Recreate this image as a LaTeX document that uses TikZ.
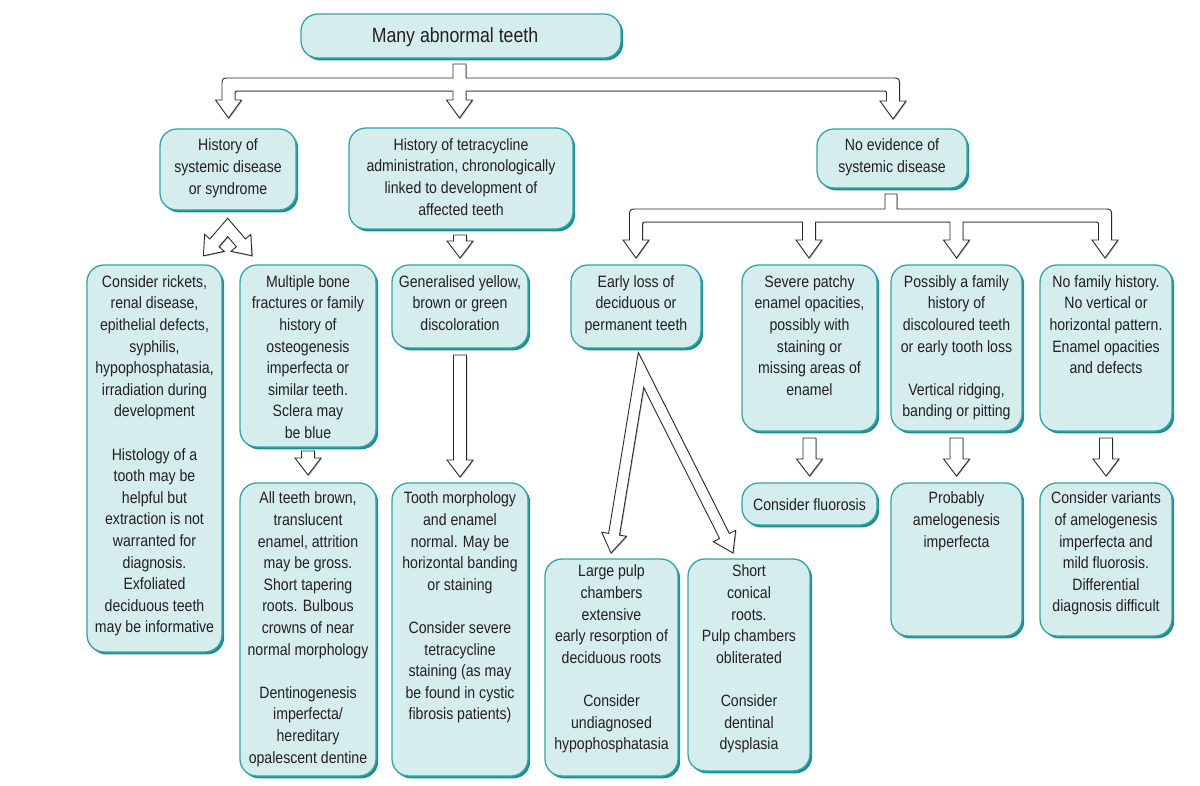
\documentclass[tikz,border=0pt]{standalone}
\usepackage{fontspec}
\setmainfont{Liberation Sans}[FakeStretch=0.86]
\usetikzlibrary{calc,shadows}
\definecolor{boxfill}{HTML}{D6EDEE}
\definecolor{boxline}{HTML}{2EA7A9}
\definecolor{boxshadow}{HTML}{1A8E91}
\definecolor{txtcol}{HTML}{231F20}
\definecolor{arrline}{HTML}{2B2B2B}
\tikzset{
 box/.style={rectangle, rounded corners=17pt, draw=boxline, line width=1.3pt, fill=boxfill,
   inner sep=0pt, outer sep=0pt,
   drop shadow={shadow xshift=2.2pt, shadow yshift=-2.4pt, fill=boxshadow, opacity=1}},
 txt/.style={align=center, inner sep=0pt, outer sep=0pt, text=txtcol,
   font=\fontsize{16.4}{21.6}\selectfont, execute at begin node={\rule{0pt}{15pt}}, anchor=north},
 barrow/.style={draw=arrline, line width=0.9pt, fill=white, line join=miter,
   drop shadow={shadow xshift=0.9pt, shadow yshift=-0.9pt, fill=black!30, opacity=1}},
}
\newcommand\bx[7]{%
 \node[box, anchor=north west, minimum width={(#4-#2)*1pt}, minimum height={(#5-#3)*1pt}] (#1) at (#2,#3) {};
 \node[txt] (#1t) at ({(#2+#4)/2}, {#6-15}) {#7};
}
\newcommand\vblk[4]{%
 \draw[barrow] let \p1=(#1.south), \p2=(#2.north) in
 (\x2-6.5pt,\y1-#3pt) -- (\x2+6.5pt,\y1-#3pt) -- (\x2+6.5pt,\y2+#4pt+17pt) -- (\x2+13pt,\y2+#4pt+17pt)
 -- (\x2,\y2+#4pt) -- (\x2-13pt,\y2+#4pt+17pt) -- (\x2-6.5pt,\y2+#4pt+17pt) -- cycle;}
\begin{document}
\begin{tikzpicture}[x=1pt,y=-1pt]
\useasboundingbox (0,0) rectangle (1200,786);
\fill[white] (0,0) rectangle (1200,786);

% top box
\node[box, anchor=north west, minimum width=320pt, minimum height=44pt] (top) at (301,14) {};
\node[txt, anchor=base, execute at begin node={}, font=\fontsize{20.6}{24}\selectfont] (topt) at (455,43) {Many abnormal teeth};

\bx{h1}{160}{129}{296}{210}{154}{History of\\ systemic disease\\ or syndrome}
\bx{h2}{349}{128}{573}{229}{153.5}{History of tetracycline\\ administration, chronologically\\ linked to development of\\ affected teeth}
\bx{h3}{817}{129}{967}{188}{154}{No evidence of\\ systemic disease}

\bx{b1}{87}{265}{222}{652}{290.5}{Consider rickets,\\ renal disease,\\ epithelial defects,\\ syphilis,\\ hypophosphatasia,\\ irradiation during\\ development\\[21.6pt] Histology of a\\ tooth may be\\ helpful but\\ extraction is not\\ warranted for\\ diagnosis.\\ Exfoliated\\ deciduous teeth\\ may be informative}
\bx{b2}{240}{265}{376}{447}{290.5}{Multiple bone\\ fractures or family\\ history of\\ osteogenesis\\ imperfecta or\\ similar teeth.\\ Sclera may\\ be blue}
\bx{b3}{392}{265}{528}{348}{290.5}{Generalised yellow,\\ brown or green\\ discoloration}
\bx{b4}{571}{265}{701}{348}{290.5}{Early loss of\\ deciduous or\\ permanent teeth}
\bx{b5}{742}{265}{877}{431}{290.5}{Severe patchy\\ enamel opacities,\\ possibly with\\ staining or\\ missing areas of\\ enamel}
\bx{b6}{891}{265}{1022}{431}{290.5}{Possibly a family\\ history of\\ discoloured teeth\\ or early tooth loss\\[21.6pt] Vertical ridging,\\ banding or pitting}
\bx{b7}{1040}{265}{1172}{431}{290.5}{No family history.\\ No vertical or\\ horizontal pattern.\\ Enamel opacities\\ and defects}

\bx{c1}{240}{483}{376}{776}{507}{All teeth brown,\\ translucent\\ enamel, attrition\\ may be gross.\\ Short tapering\\ roots. Bulbous\\ crowns of near\\ normal morphology\\[21.6pt] Dentinogenesis\\ imperfecta/\\ hereditary\\ opalescent dentine}
\bx{c2}{392}{483}{528}{776}{507}{Tooth morphology\\ and enamel\\ normal. May be\\ horizontal banding\\ or staining\\[21.6pt] Consider severe\\ tetracycline\\ staining (as may\\ be found in cystic\\ fibrosis patients)}
\bx{c3}{545}{559}{678}{776}{580}{Large pulp\\ chambers\\ extensive\\ early resorption of\\ deciduous roots\\[21.6pt] Consider\\ undiagnosed\\ hypophosphatasia}
\bx{c4}{688}{559}{810}{771}{580}{Short\\ conical\\ roots.\\ Pulp chambers\\ obliterated\\[21.6pt] Consider\\ dentinal\\ dysplasia}
\bx{d1}{742}{483}{877}{525}{510}{Consider fluorosis}
\bx{d2}{891}{483}{1022}{636}{507}{Probably\\ amelogenesis\\ imperfecta}
\bx{d3}{1040}{483}{1172}{636}{507}{Consider variants\\ of amelogenesis\\ imperfecta and\\ mild fluorosis.\\ Differential\\ diagnosis difficult}

% top tree: top -> h1, h2, h3
\draw[barrow] (453,64) -- (466,64) -- (466,78) -- (891.5,78) .. controls (899.5,78) .. (899.5,86)
 -- (899.5,101) -- (906,101) -- (893,119) -- (880,101) -- (886.5,101) -- (886.5,95)
 .. controls (886.5,91) .. (882.5,91) -- (466,91) -- (466,100) -- (472.5,100) -- (459.5,118)
 -- (446.5,100) -- (453,100) -- (453,91) -- (239,91) .. controls (235,91) .. (235,95)
 -- (235,100) -- (241.5,100) -- (228.5,118) -- (215.5,100) -- (222,100) -- (222,86)
 .. controls (222,78) .. (230,78) -- (453,78) -- cycle;

% second tree: h3 -> b4, b5, b6, b7
\draw[barrow] (885,194) -- (897,194) -- (897,209) -- (1103.5,209) .. controls (1111.5,209) .. (1111.5,217)
 -- (1111.5,240) -- (1118,240) -- (1105,258) -- (1092,240) -- (1098.5,240) -- (1098.5,226)
 .. controls (1098.5,222) .. (1094.5,222) -- (963,222) -- (963,240) -- (969.5,240) -- (956.5,258)
 -- (943.5,240) -- (950,240) -- (950,222) -- (815.5,222) -- (815.5,240) -- (822,240) -- (809,258)
 -- (796,240) -- (802.5,240) -- (802.5,222) -- (646.5,222) .. controls (642.5,222) .. (642.5,226)
 -- (642.5,240) -- (649,240) -- (636,258) -- (623,240) -- (629.5,240) -- (629.5,217)
 .. controls (629.5,209) .. (637.5,209) -- (885,209) -- cycle;

% chevron: h1 -> b1, b2
\draw[barrow] (227.7,218.3) -- (245.47,238.95) -- (250.77,234.38) -- (252,255.75) -- (231.07,251.34)
 -- (236.37,246.77) -- (227.7,236.7) -- (219.03,246.77) -- (224.33,251.34) -- (203.4,255.75)
 -- (204.63,234.38) -- (209.93,238.95) -- cycle;

% Lambda: b4 -> c3, c4
\draw[barrow] (638.31,352.41) -- (608.64,533.36) -- (601.74,532.23) -- (611,553) -- (626.41,536.27)
 -- (619.50,535.14) -- (643.69,387.59) -- (719.56,538.49) -- (713.30,541.64) -- (733,553)
 -- (735.64,530.41) -- (729.38,533.55) -- cycle;

% simple arrows
\vblk{h2}{b3}{6}{7}
\vblk{b2}{c1}{4}{8}
\vblk{b3}{c2}{7}{6}
\vblk{b5}{d1}{7}{7}
\vblk{b6}{d2}{7}{7}
\vblk{b7}{d3}{7}{7}
\end{tikzpicture}
\end{document}
